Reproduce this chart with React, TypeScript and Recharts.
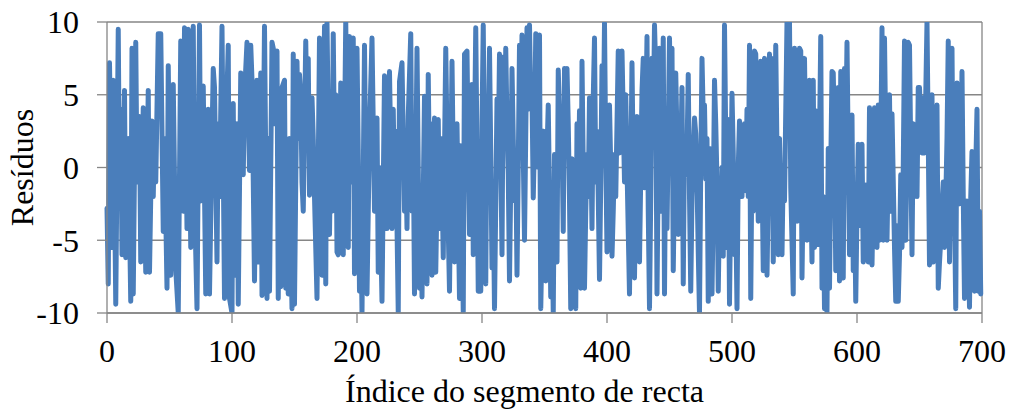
import {
  LineChart,
  Line,
  XAxis,
  YAxis,
  CartesianGrid,
  ReferenceLine,
} from "recharts";

// residuals, as [segment index, residual] pairs
const residuals000: [number, number][] = [
  [0, -2.8], [1, -8], [2, 7.2], [3, 1], [4, -5.5], [5, 6], [6, -1], [7, -9.4], [9, 9.5], [10, -2],
  [11, 4], [12, -6], [14, 5.3], [15, -6.2], [17, 2], [19, -9.2], [20, 8.2], [21, -8.7], [23, 8.6], [24, -1],
  [26, 3.5], [27, -6.5], [29, 4.1], [31, -7.2], [33, 5.3], [34, -7.2], [36, 3.2], [37, -2], [38, 2.5], [39, -1],
  [41, 9.2], [43, 9.2], [45, -4.4], [46, 2], [48, -8.3], [49, 7], [51, -7.4], [53, 5.7], [55, -7], [57, -10],
  [59, 8.7], [60, 3], [61, -3], [62, 9.6], [64, -4.2], [65, 9.5], [67, -5.5], [69, 9.7], [70, -2], [72, -9.7],
  [74, 9.8], [75, -2.3], [77, 5.6], [79, -8.7], [81, 4], [82, -8.7], [84, 2], [85, 6.8], [86, 5.5], [88, -6.5],
  [89, 3], [90, -2], [92, 9.7], [94, -9], [95, 2], [97, 8.4], [98, -9],
];

const residuals100: [number, number][] = [
  [100, -10], [101, 4.4], [102, -7.4], [104, 3], [105, -9.4], [107, 6.5], [109, -0.5], [110, 5], [112, 8.6], [114, -0.2],
  [115, 8.4], [116, 6], [118, -7.8], [120, 6], [121, -6.5], [123, 6.5], [124, -8.8], [126, 9.7], [128, -9], [129, 2],
  [130, -8.5], [132, 8.6], [133, 8.2], [134, 3], [136, 8], [137, -9], [138, 0], [139, -8.2], [140, 5.5], [142, 6],
  [143, -8.3], [144, 1], [145, -8.7], [146, 2], [147, -5], [148, -9.7], [149, 7.8], [150, -9.4], [152, 7.3], [153, 2],
  [154, 6.4], [155, 5], [156, -1], [157, -3], [159, 8.7], [160, 3], [161, 7.5], [162, -1.9], [164, 4.8], [165, 2],
  [166, -2], [168, -9], [170, 8.9], [172, -7.4], [174, 9.7], [175, -8], [176, 9.9], [177, 3.2], [178, -4.6], [179, 2],
  [180, -3], [181, 9.2], [182, 1], [183, 5], [184, -5.8], [185, -6], [186, -2], [187, 5.8], [189, -6], [190, 2],
  [191, 10], [193, -5.5], [194, 9], [195, -1], [196, 3], [197, 8.9], [198, -7.3],
];

const residuals200: [number, number][] = [
  [200, 8.2], [201, 1], [202, -8.5], [203, -3], [204, -10], [206, 8.4], [208, -8.7], [210, 2.5], [212, 8.9], [214, -3],
  [216, 3.4], [217, -7.2], [218, 0], [220, -9.2], [222, 6.3], [224, -4.2], [226, 6.6], [228, -4.2], [229, 4], [230, -2],
  [231, 2.5], [232, -4], [233, -10], [234, 5.9], [236, 7.2], [238, -3], [239, 1], [240, -4.2], [241, 3.5], [243, 9.2],
  [244, -3], [245, 2], [246, -8.7], [248, 8.2], [250, -8.3], [251, -2], [252, -8.9], [254, 4.9], [256, -8], [257, 6.4],
  [258, -1], [259, 3], [260, -7.4], [262, 3.4], [263, -7.2], [265, 3.3], [266, -4.2], [267, 2], [268, -1], [269, -6.2],
  [270, 1], [271, 8.2], [272, 2], [273, -4.2], [274, -8.5], [276, 7.3], [278, -6.5], [280, 3], [282, -9], [283, 1.5],
  [284, -4], [285, -9.9], [286, 7.8], [288, 8], [289, 1], [290, -4.6], [292, 5.7], [293, -6], [294, 2], [295, 9.6],
  [296, 1], [297, -8.5], [298, 1.8], [299, -8.5],
];

const residuals300: [number, number][] = [
  [300, 3], [301, 9.8], [302, 0], [303, -8], [304, 4.5], [305, 2], [306, 8.2], [307, 1], [308, -6.9], [309, -2],
  [310, -9.7], [312, 4.7], [313, 1], [314, 7.8], [316, -6], [317, 7.6], [318, 2], [319, 8.2], [320, 3], [321, -0.5],
  [322, -7.8], [323, -1], [324, 6.8], [325, 2], [326, -2.3], [327, 1], [328, -7.4], [329, 0], [330, 8.4], [331, 3],
  [332, 9.1], [333, 1], [334, -5], [336, 9.6], [337, 4], [338, 9.8], [339, 4.5], [340, 5], [341, -2.1], [342, 2],
  [343, 9.2], [344, 6], [345, 0], [346, 9.1], [347, -9.7], [348, -5], [349, 2.5], [350, -1], [351, -7.8], [352, 1],
  [353, 4.3], [354, -2], [355, -8.9], [356, -4], [357, -10], [358, 0.9], [360, -6.5], [361, 6.7], [363, 0.6], [364, 2],
  [365, -4.4], [366, 6.8], [367, 2], [368, 6.8], [369, 3], [370, -2.3], [371, -9.7], [372, 0.6], [373, -6], [374, -0.7],
  [375, -9.7], [376, 3], [377, -2], [378, 3.9], [379, -8.3], [380, 7.3], [381, 0], [382, -8.3], [383, -3], [384, 0.9],
  [385, -2], [386, 4.8], [387, 2], [388, -4.2], [389, 4.8], [390, 8.9], [391, -1], [392, 2.5], [393, -2], [394, -7.7],
  [395, -1], [396, 7], [397, 2], [398, 9.9], [399, 1],
];

const residuals400: [number, number][] = [
  [400, -5.8], [401, -2], [402, 4.3], [403, 0], [404, -6.1], [405, -3], [406, 0.9], [407, -2], [408, 3], [409, 8],
  [410, 1], [411, 6], [412, 8], [413, 3.5], [414, -1], [415, 5], [416, 0], [418, -8.7], [420, 7.2], [422, -7.6],
  [423, -1], [424, 3.5], [425, 0], [426, -6.5], [428, 5.3], [429, 7.5], [430, -1.4], [431, 3], [432, 9], [433, -3],
  [434, -9.7], [435, -2], [436, 7.5], [437, 3], [438, 9.8], [439, 6.6], [440, -8.7], [441, 0], [442, 8.2], [443, -3],
  [445, 8.9], [446, -8.7], [447, 2], [448, -4.2], [450, 8.9], [451, 3], [452, 8.2], [453, -7.1], [454, -1], [455, 6.5],
  [456, 2], [457, -4.6], [459, 0.9], [460, 5.5], [461, -8], [462, 2], [463, -0.5], [464, 1], [465, 6.4], [466, -2],
  [467, -8.5], [468, -2], [469, 1], [470, 3.4], [471, 2.3], [472, -1], [473, -5.8], [474, -10], [475, 0], [476, 7.5],
  [477, 3.5], [478, 4.3], [479, -0.8], [480, 2], [481, -9.2], [482, 1.3], [483, -2], [484, -8.7], [485, -2.5], [486, 6],
  [487, 3], [488, -1], [489, -8.5], [490, -2.9], [491, -6], [492, 0], [493, -6.1], [494, 9.8], [495, 2], [496, -5.5],
  [497, 3.3], [498, -9.4], [499, -2],
];

const residuals500: [number, number][] = [
  [500, 5.1], [501, 1], [502, -6], [503, -3], [504, -9.7], [505, 0], [506, 3.2], [507, 2], [508, -2], [509, 2.1],
  [510, 3], [511, -1.6], [512, 4], [513, -2], [514, 8.4], [515, -9], [516, 1], [517, -3], [518, 8], [519, 7.8],
  [520, 2], [521, -3.7], [522, 2], [523, 7.3], [524, 0], [525, -7.1], [526, 7.5], [527, 1], [528, -7.4], [529, -2],
  [530, 7.8], [531, 2], [532, 7.5], [533, -6.5], [534, 1], [535, 8.4], [536, 1], [537, -6], [538, 2], [539, -2.3],
  [540, -6], [541, 0], [542, -2.3], [544, 10], [545, 3], [546, 10], [547, -1.4], [549, -8.7], [550, 8.2], [551, 2],
  [552, -3.7], [553, 1], [554, 8.2], [555, 8], [556, -7.6], [557, -1], [558, 7.5], [559, 1], [560, -5], [561, 2.9],
  [562, 6], [563, -1], [564, -6.5], [565, 6], [566, -5.5], [567, 3.9], [568, -1], [569, -5.3], [570, 2], [571, 9],
  [572, -8.3], [573, -2], [574, -9.7], [575, -4], [576, -9.9], [577, 1.3], [578, -8.3], [579, 0], [580, 6.6], [581, 6.5],
  [582, 2], [583, -7.1], [584, -1], [585, 5.5], [586, -7.8], [587, 6.6], [588, 0], [589, -7.6], [590, 6.8], [591, 2],
  [592, 8.6], [593, 1], [594, -6], [595, -1], [596, 3.6], [597, -7.1], [598, -2], [599, -9.2],
];

const residuals600: [number, number][] = [
  [600, -3], [601, 1.6], [602, -1.9], [603, -4], [604, 1.6], [605, -6.5], [606, -3], [607, -1.2], [608, -2], [609, -6.5],
  [610, 4.1], [611, 0], [612, -6.7], [613, -2], [614, 4.1], [615, 0], [616, -5.5], [617, 4.3], [618, -5], [619, 1],
  [620, 9.6], [621, -5], [622, 8.9], [623, 2], [624, -5], [625, 0], [626, 5], [627, -3], [628, 3.7], [630, -5.5],
  [631, -9.2], [632, -4], [633, -9.2], [634, -6], [635, -0.5], [636, -5.5], [637, 0], [638, 8.7], [639, -5], [640, 2],
  [641, 8.6], [642, 8.4], [643, 1], [644, -6], [645, 3], [646, -2], [647, 0.9], [648, -2], [649, 5.5], [650, 5.5],
  [651, 3], [652, 1], [653, 4.8], [654, 1], [655, 5], [656, 10], [657, 2], [658, -6.7], [659, -2], [660, 5],
  [661, -6.5], [662, -2.5], [663, -1], [664, 4.3], [665, -8.3], [666, -6.5], [667, -5], [668, -2.6], [669, -1], [670, -5.5],
  [671, -2.3], [672, 2], [673, 8.7], [674, -6.5], [675, 1], [676, 8.2], [677, -2.8], [678, -3], [679, -9.7], [680, 5.8],
  [681, 2], [682, -2.5], [683, 0], [684, 6.6], [685, -2], [686, -9], [687, -5], [688, -2.3], [689, -4], [690, -9.6],
  [691, -2], [692, 1.1], [693, -3], [694, -8.5], [695, 0], [696, 4], [697, -8.5], [698, -3], [699, -8.7],
];

const X_TICKS = [0, 100, 200, 300, 400, 500, 600, 700];
const Y_TICKS = [-10, -5, 0, 5, 10];

const data = [
  ...residuals000,
  ...residuals100,
  ...residuals200,
  ...residuals300,
  ...residuals400,
  ...residuals500,
  ...residuals600,
].map(([idx, res]) => ({ idx, res }));

const FONT = '"Liberation Serif", "Times New Roman", serif';
const GREY = "#868686";
const TEXT_STYLE = { fontFamily: FONT };
const TICK_STYLE = { fill: "#000", fontSize: 32, fontFamily: FONT, style: TEXT_STYLE };

export default function App() {
  return (
    <div
      style={{
        position: "absolute",
        left: 0,
        top: 0,
        width: 1014,
        height: 412,
        background: "#fff",
        fontFamily: FONT,
      }}
    >
      <LineChart
        width={1014}
        height={412}
        data={data}
        margin={{ top: 22, right: 32, left: 0, bottom: 0 }}
        style={TEXT_STYLE}
      >
        <CartesianGrid vertical={false} stroke={GREY} strokeWidth={1.3} />
        <XAxis
          dataKey="idx"
          type="number"
          domain={[0, 700]}
          ticks={X_TICKS}
          interval={0}
          height={99}
          tickSize={10}
          tickMargin={16}
          stroke={GREY}
          strokeWidth={1.3}
          tick={TICK_STYLE}
          label={{
            value: "Índice do segmento de recta",
            position: "insideBottom",
            offset: 10,
            dx: -20,
            fill: "#000",
            fontSize: 32,
            fontFamily: FONT,
            style: TEXT_STYLE,
          }}
        />
        <YAxis
          type="number"
          domain={[-10, 10]}
          ticks={Y_TICKS}
          interval={0}
          allowDataOverflow
          width={107}
          tickSize={10}
          tickMargin={18}
          stroke={GREY}
          strokeWidth={1.3}
          tick={TICK_STYLE}
          label={{
            value: "Resíduos",
            position: "insideLeft",
            angle: -90,
            offset: 22,
            fill: "#000",
            fontSize: 32,
            fontFamily: FONT,
            style: { textAnchor: "middle", fontFamily: FONT },
          }}
        />
        <ReferenceLine x={700} stroke={GREY} strokeWidth={1.3} />
        <Line
          type="linear"
          dataKey="res"
          stroke="#4a7ebb"
          strokeWidth={5}
          strokeLinejoin="round"
          strokeLinecap="round"
          dot={false}
          isAnimationActive={false}
        />
      </LineChart>
    </div>
  );
}
